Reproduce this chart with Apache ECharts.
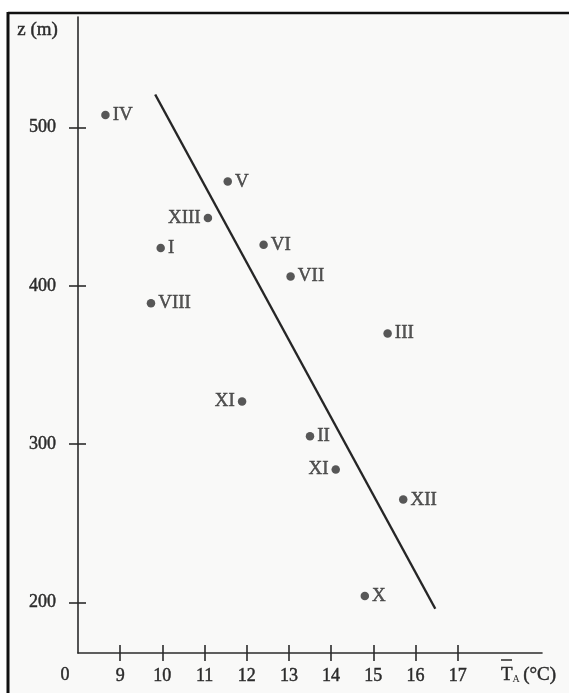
<!DOCTYPE html>
<html>
<head>
<meta charset="utf-8">
<script src="https://cdn.jsdelivr.net/npm/echarts@6/dist/echarts.min.js"></script>
<style>
html,body{margin:0;padding:0;background:#ffffff;}
#chart{width:569px;height:693px;}
</style>
</head>
<body>
<div id="chart"></div>
<script>
// ---- data ----
const months  = ['IV', 'V', 'XIII', 'I', 'VI', 'VIII', 'VII', 'III', 'XI', 'II', 'XI', 'XII', 'X'];
const temps   = [8.65, 11.55, 11.08, 9.96, 12.40, 9.73, 13.04, 15.34, 11.89, 13.50, 14.11, 15.71, 14.80];
const heights = [508, 466, 443, 424, 426, 389, 406, 370, 327, 305, 284, 265, 204];
const lineT   = [9.83, 16.47];
const lineZ   = [521, 196];
const xTicks  = [9, 10, 11, 12, 13, 14, 15, 16, 17];
const yTicks  = [200, 300, 400, 500];
const leftLabelled = ['XIII', 'XI'];

const INK = '#2b2b2b';
const FONT = '"Liberation Serif", "DejaVu Serif", serif';
const THICK = { textBorderColor: INK, textBorderWidth: 0.45 };

const chart = echarts.init(document.getElementById('chart'), null, {renderer: 'canvas'});

const points = months.map((m, i) => ({
  value: [temps[i], heights[i]],
  name: m,
  label: { position: leftLabelled.includes(m) ? 'left' : 'right' }
}));

const gridBox = { left: 78, top: 17, right: 27, bottom: 40, containLabel: false };
const tickStyle = { color: INK, width: 1.6 };

const option = {
  backgroundColor: 'transparent',
  animation: false,
  grid: [Object.assign({}, gridBox), Object.assign({}, gridBox)],
  xAxis: [{
    gridIndex: 0, type: 'value', min: 8, max: 19,
    axisLine: { show: true, lineStyle: { color: INK, width: 1.6 } },
    axisTick: { show: false },
    axisLabel: Object.assign({ customValues: xTicks, color: INK, fontFamily: FONT, fontSize: 18, margin: 14 }, THICK),
    splitLine: { show: false }
  }, {
    gridIndex: 1, type: 'value', min: 8, max: 19, position: 'bottom', offset: -8,
    axisLine: { show: false },
    axisTick: { show: true, customValues: xTicks, length: 16, lineStyle: tickStyle },
    axisLabel: { show: false, customValues: xTicks },
    splitLine: { show: false }
  }],
  yAxis: [{
    gridIndex: 0, type: 'value', min: 168, max: 570,
    axisLine: { show: true, lineStyle: { color: INK, width: 1.6 } },
    axisTick: { show: false },
    axisLabel: Object.assign({ customValues: yTicks, color: INK, fontFamily: FONT, fontSize: 18, margin: 22 }, THICK),
    splitLine: { show: false }
  }, {
    gridIndex: 1, type: 'value', min: 168, max: 570, position: 'left', offset: -8,
    axisLine: { show: false },
    axisTick: { show: true, customValues: yTicks, length: 17, lineStyle: tickStyle },
    axisLabel: { show: false, customValues: yTicks },
    splitLine: { show: false }
  }],
  series: [{
    type: 'line',
    xAxisIndex: 1, yAxisIndex: 1,
    data: lineT.map((t, i) => [t, lineZ[i]]),
    showSymbol: false,
    symbol: 'none',
    lineStyle: { color: '#262626', width: 2.4 },
    silent: true,
    z: 2
  }, {
    type: 'scatter',
    xAxisIndex: 0, yAxisIndex: 0,
    data: points,
    symbol: 'circle',
    symbolSize: 8.5,
    itemStyle: { color: '#2e2e2e' },
    label: Object.assign({
      show: true,
      formatter: p => p.name,
      color: INK,
      fontFamily: FONT,
      fontSize: 19,
      distance: 3
    }, THICK),
    z: 3
  }],
  graphic: [
    { type: 'rect', z: -10, shape: { x: 8, y: 13, width: 561, height: 680 }, style: { fill: '#f9f9f8' } },
    { type: 'line', z: 10, shape: { x1: 8, y1: 13, x2: 569, y2: 13 }, style: { stroke: '#111', lineWidth: 2.5 } },
    { type: 'line', z: 10, shape: { x1: 8, y1: 12, x2: 8, y2: 693 }, style: { stroke: '#111', lineWidth: 3 } },
    { type: 'text', left: 17, top: 20, style: { text: 'z (m)', fill: INK, font: '19px ' + FONT, stroke: INK, lineWidth: 0.45 } },
    { type: 'text', x: 65, y: 675, style: { text: '0', fill: INK, font: '18px ' + FONT, align: 'center', verticalAlign: 'middle', stroke: INK, lineWidth: 0.45 } },
    { type: 'text', x: 501, y: 675, style: {
        text: '{t|T}{s|A} {u|(°C)}', verticalAlign: 'middle', align: 'left', fill: INK,
        rich: {
          t: { font: '19px ' + FONT, fill: INK, stroke: INK, lineWidth: 0.45 },
          s: { font: '10px ' + FONT, fill: INK, padding: [8, 0, 0, 0] },
          u: { font: '19px ' + FONT, fill: INK, stroke: INK, lineWidth: 0.45 }
        } } },
    { type: 'line', shape: { x1: 501, y1: 660, x2: 512, y2: 660 }, style: { stroke: INK, lineWidth: 1.5 } }
  ]
};
chart.setOption(option);
</script>
</body>
</html>
